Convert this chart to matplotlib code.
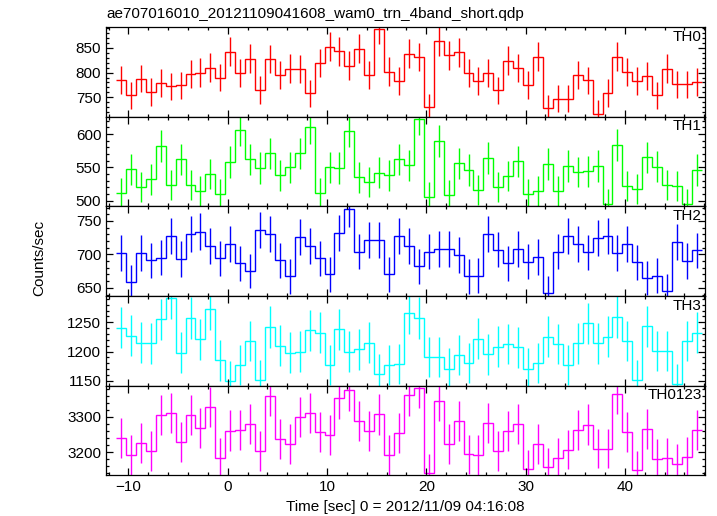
import numpy as np
import matplotlib
matplotlib.use("Agg")
import matplotlib.pyplot as plt
from matplotlib.ticker import MultipleLocator

plt.rcParams['font.family'] = ['Liberation Sans', 'DejaVu Sans']

# 1 s bins, edges
bin_edges = -11.25 + np.arange(60)
bin_centers = 0.5 * (bin_edges[:-1] + bin_edges[1:])

th0 = [785, 754, 788, 761, 779, 772, 774, 798, 800, 810,
       790, 842, 799, 828, 765, 827, 796, 808, 807, 758,
       819, 852, 843, 814, 848, 796, 888, 802, 783, 838,
       831, 730, 863, 835, 841, 799, 783, 799, 764, 824,
       809, 775, 832, 728, 747, 747, 796, 784, 717, 759,
       832, 801, 783, 794, 754, 808, 776, 776, 781]
th1 = [512, 547, 520, 532, 582, 523, 562, 523, 514, 540,
       510, 558, 606, 562, 549, 571, 538, 550, 571, 610,
       512, 550, 549, 605, 535, 528, 542, 538, 562, 553,
       623, 505, 590, 508, 556, 546, 516, 564, 520, 537,
       559, 510, 514, 555, 515, 552, 543, 544, 552, 495,
       583, 522, 517, 565, 551, 523, 522, 495, 546]
th2 = [702, 658, 702, 691, 695, 728, 693, 731, 734, 713,
       694, 715, 687, 675, 736, 730, 691, 667, 726, 713,
       694, 670, 732, 768, 704, 722, 721, 670, 728, 713,
       682, 704, 708, 708, 699, 667, 668, 730, 707, 687,
       708, 689, 696, 642, 704, 727, 715, 703, 724, 727,
       702, 716, 688, 665, 668, 646, 719, 690, 706]
th3 = [1241, 1227, 1215, 1214, 1255, 1291, 1198, 1257, 1221, 1272,
       1185, 1150, 1177, 1218, 1152, 1242, 1210, 1198, 1200, 1236,
       1232, 1177, 1238, 1200, 1204, 1215, 1161, 1177, 1179, 1266,
       1257, 1191, 1191, 1171, 1194, 1180, 1222, 1195, 1208, 1213,
       1207, 1171, 1181, 1225, 1213, 1177, 1214, 1248, 1214, 1225,
       1259, 1218, 1152, 1243, 1201, 1201, 1145, 1218, 1232]
th0123 = [3240, 3191, 3226, 3202, 3306, 3311, 3229, 3306, 3268, 3328,
          3184, 3261, 3263, 3279, 3204, 3360, 3236, 3224, 3299, 3311,
          3258, 3249, 3353, 3376, 3288, 3260, 3307, 3191, 3253, 3361,
          3383, 3139, 3345, 3222, 3288, 3193, 3192, 3282, 3202, 3260,
          3280, 3151, 3224, 3156, 3184, 3207, 3263, 3278, 3210, 3210,
          3366, 3256, 3148, 3266, 3180, 3184, 3167, 3187, 3263]

series = [th0, th1, th2, th3, th0123]
names = ['TH0', 'TH1', 'TH2', 'TH3', 'TH0123']
colors = ['#ff0000', '#00ff00', '#0000ff', '#00ffff', '#ff00ff']
ylims = [(711.5, 892), (491.5, 626.5), (638, 772), (1142, 1295), (3134, 3389)]
major = [50, 50, 50, 50, 100]
minor = [10, 10, 10, 10, 20]

fig = plt.figure(figsize=(7.17, 5.16), dpi=100)
gs = fig.add_gridspec(5, 1, left=0.148, right=0.983, top=0.948, bottom=0.079, hspace=0)

axes = []
for i in range(5):
    ax = fig.add_subplot(gs[i], sharex=axes[0] if axes else None)
    axes.append(ax)
    vals = np.array(series[i], dtype=float)
    ax.stairs(vals, bin_edges, baseline=None, color=colors[i], lw=1.0)
    ax.errorbar(bin_centers, vals, yerr=np.sqrt(vals), fmt='none',
                ecolor=colors[i], elinewidth=1.0)
    ax.set_ylim(*ylims[i])
    ax.yaxis.set_major_locator(MultipleLocator(major[i]))
    ax.yaxis.set_minor_locator(MultipleLocator(minor[i]))
    ax.xaxis.set_major_locator(MultipleLocator(10))
    ax.xaxis.set_minor_locator(MultipleLocator(2))
    ax.tick_params(which='both', direction='in', top=True, right=True,
                   labelsize=11, width=0.9)
    ax.tick_params(which='major', length=5)
    ax.tick_params(which='minor', length=2.5)
    for s in ax.spines.values():
        s.set_linewidth(0.9)
    ax.text(0.995, 0.97, names[i], transform=ax.transAxes, ha='right', va='top',
            fontsize=11)
    if i < 4:
        ax.tick_params(labelbottom=False)

axes[0].set_xlim(-12.25, 48.05)
axes[0].set_title('ae707016010_20121109041608_wam0_trn_4band_short.qdp',
                  loc='left', fontsize=11, pad=6)
axes[-1].set_xlabel('Time [sec] 0 = 2012/11/09 04:16:08', fontsize=11, labelpad=4)
fig.text(0.055, 0.5, 'Counts/sec', rotation=90, va='center', ha='center', fontsize=11)

fig.savefig('out.png', dpi=100)
